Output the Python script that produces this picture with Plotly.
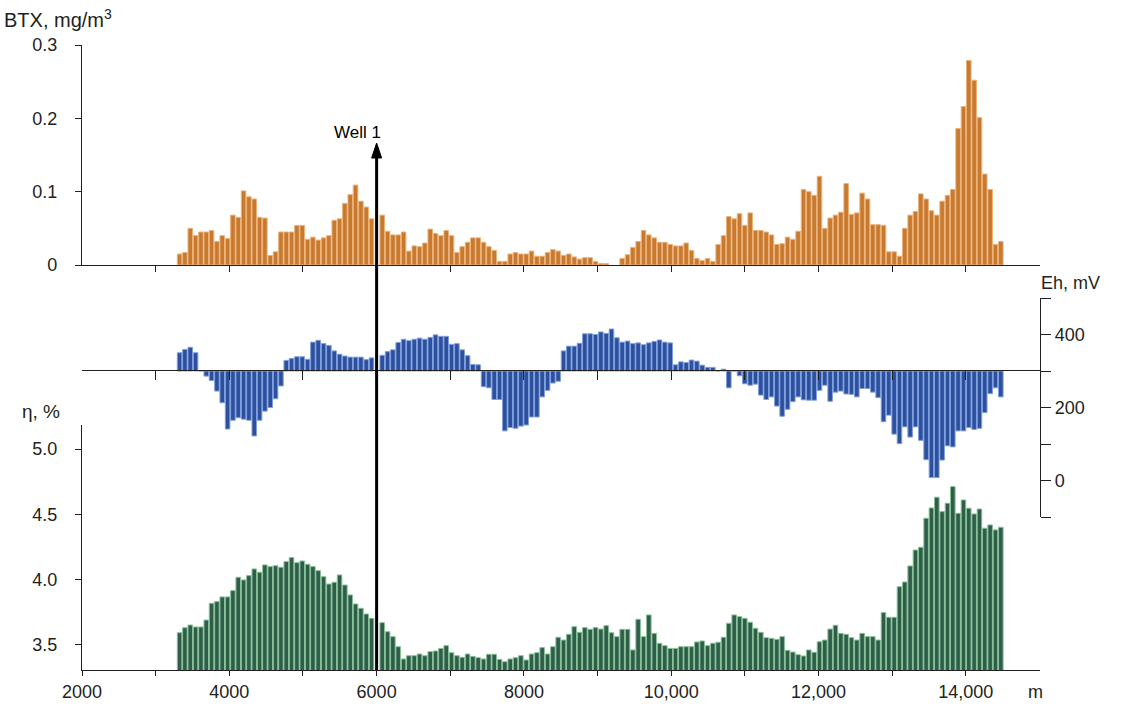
import plotly.graph_objects as go

# ---------------- data ----------------
distance_m = [round(3325 + 72.4 * i) for i in range(155)]

btx = [0.015, 0.017, 0.050, 0.040, 0.045, 0.045, 0.047, 0.032, 0.040, 0.036,
       0.068, 0.065, 0.101, 0.093, 0.090, 0.065, 0.064, 0.013, 0.018, 0.045,
       0.045, 0.045, 0.054, 0.054, 0.035, 0.038, 0.034, 0.037, 0.040, 0.061,
       0.063, 0.084, 0.096, 0.109, 0.087, 0.079, 0.063, None, 0.068, 0.046,
       0.041, 0.041, 0.045, 0.019, 0.026, 0.025, 0.030, 0.049, 0.043, 0.040,
       0.047, 0.040, 0.017, 0.025, 0.031, 0.037, 0.037, 0.031, 0.025, 0.020,
       0.005, 0.005, 0.015, 0.017, 0.015, 0.015, 0.019, 0.012, 0.012, 0.017,
       0.021, 0.019, 0.013, 0.015, 0.011, 0.008, 0.010, 0.010, 0.005, 0.002,
       0.002, None, None, 0.009, 0.014, 0.024, 0.032, 0.047, 0.041, 0.037,
       0.031, 0.031, 0.028, 0.026, 0.026, 0.030, 0.020, 0.009, 0.006, 0.009,
       0.005, 0.028, 0.040, 0.066, 0.063, 0.070, 0.054, 0.071, 0.047, 0.047,
       0.045, 0.041, 0.028, 0.029, 0.038, 0.035, 0.046, 0.103, 0.100, 0.095,
       0.121, 0.050, 0.064, 0.068, 0.072, 0.111, 0.069, 0.071, 0.098, 0.090,
       0.055, 0.055, 0.054, 0.018, 0.018, 0.012, 0.050, 0.068, 0.073, 0.097,
       0.090, 0.074, 0.068, 0.087, 0.095, 0.103, 0.186, 0.216, 0.279, 0.252,
       0.201, 0.124, 0.103, 0.028, 0.032]

eh_mv = [350, 359, 365, 350, 300, 286, 274, 245, 213, 141,
         165, 172, 168, 165, 122, 165, 190, 200, 224, 259,
         329, 334, 339, 339, 332, 379, 384, 375, 370, 355,
         346, 341, 338, 338, 338, 331, 336, None, 343, 353,
         358, 378, 387, 383, 387, 390, 387, 392, 399, 395,
         395, 373, 375, 358, 342, 318, 317, 257, 254, 222,
         222, 136, 145, 143, 149, 152, 174, 174, 229, 247,
         267, 272, 355, 368, 368, 376, 402, 402, 400, 407,
         403, 415, 391, 379, 382, 375, 377, 372, 377, 381,
         385, 379, 377, 317, 325, 323, 330, 327, 316, 310,
         310, 300, 305, 254, 300, 287, 265, 261, 264, 234,
         222, 229, 204, 176, 195, 216, 229, 221, 220, 220,
         247, 261, 217, 242, 245, 237, 236, 229, 252, 252,
         242, 227, 161, 179, 127, 101, 147, 119, 147, 110,
         57, 8, 8, 56, 95, 92, 136, 136, 145, 140,
         143, 186, 238, 254, 229]

eta_pct = [3.594, 3.632, 3.653, 3.638, 3.638, 3.691, 3.819, 3.832, 3.868, 3.868,
           3.916, 4.018, 3.998, 4.031, 4.082, 4.057, 4.113, 4.100, 4.107, 4.095,
           4.138, 4.169, 4.130, 4.143, 4.118, 4.100, 4.069, 4.023, 3.967, 3.980,
           4.036, 3.959, 3.883, 3.814, 3.781, 3.737, 3.704, None, 3.671, 3.602,
           3.564, 3.487, 3.393, 3.418, 3.418, 3.431, 3.418, 3.449, 3.454, 3.474,
           3.495, 3.441, 3.418, 3.406, 3.431, 3.413, 3.403, 3.393, 3.429, 3.429,
           3.390, 3.372, 3.393, 3.403, 3.418, 3.385, 3.431, 3.441, 3.480, 3.431,
           3.487, 3.559, 3.538, 3.582, 3.640, 3.597, 3.633, 3.620, 3.633, 3.622,
           3.648, 3.594, 3.564, 3.620, 3.620, 3.462, 3.697, 3.564, 3.730, 3.589,
           3.513, 3.495, 3.474, 3.474, 3.487, 3.487, 3.487, 3.523, 3.531, 3.495,
           3.513, 3.521, 3.559, 3.666, 3.730, 3.717, 3.704, 3.674, 3.628, 3.597,
           3.556, 3.551, 3.543, 3.564, 3.459, 3.446, 3.426, 3.416, 3.462, 3.444,
           3.525, 3.538, 3.622, 3.651, 3.589, 3.582, 3.556, 3.538, 3.589, 3.564,
           3.564, 3.538, 3.748, 3.712, 3.712, 3.946, 3.982, 4.105, 4.227, 4.248,
           4.470, 4.549, 4.631, 4.521, 4.585, 4.712, 4.508, 4.610, 4.547, 4.503,
           4.541, 4.394, 4.419, 4.381, 4.401]

x_tick_vals = [2000, 4000, 6000, 8000, 10000, 12000, 14000]
x_tick_text = ["2000", "4000", "6000", "8000", "10,000", "12,000", "14,000"]
x_minor_vals = [3000, 5000, 7000, 9000, 11000, 13000]
btx_tick_vals = [0, 0.1, 0.2, 0.3]
btx_tick_text = ["0", "0.1", "0.2", "0.3"]
eh_tick_vals = [0, 200, 400]
eh_tick_text = ["0", "200", "400"]
eh_minor_vals = [-100, 100, 300, 500]
eta_tick_vals = [3.5, 4.0, 4.5, 5.0]
eta_tick_text = ["3.5", "4.0", "4.5", "5.0"]
eh_baseline = 300
well_x = 6000

# ---------------- figure ----------------
INK = "#231f20"
FONT = "Liberation Sans, Arial, sans-serif"

fig = go.Figure()

fig.add_trace(go.Bar(
    x=distance_m, y=btx, xaxis="x", yaxis="y",
    marker=dict(color="#c8792e", line=dict(color="#eab27a", width=1)),
    showlegend=False))

fig.add_trace(go.Bar(
    x=distance_m,
    y=[None if v is None else v - eh_baseline for v in eh_mv],
    base=eh_baseline, xaxis="x2", yaxis="y2",
    marker=dict(color="#2c4f9e", line=dict(color="#7f9fdc", width=1)),
    showlegend=False))

fig.add_trace(go.Bar(
    x=distance_m, y=eta_pct, xaxis="x3", yaxis="y3",
    marker=dict(color="#2f5d4a", line=dict(color="#86c196", width=1)),
    showlegend=False))

x_range = [2000, 15007]
common_x = dict(range=x_range, showgrid=False, zeroline=False, showline=True,
                linecolor=INK, linewidth=1.2, ticks="outside", tickcolor=INK,
                fixedrange=True, automargin=False)
common_y = dict(showgrid=False, zeroline=False, showline=True, linecolor=INK,
                linewidth=1.2, ticks="outside", tickcolor=INK,
                tickfont=dict(size=18, color=INK), fixedrange=True,
                automargin=False)

P = 625.0  # plot height in px (y 45..670)


def frac(py):
    return (670 - py) / P


def fx(px):
    return (px - 82) / 958.0


fig.update_layout(
    width=1128, height=706,
    margin=dict(l=82, r=88, t=45, b=36),
    paper_bgcolor="white", plot_bgcolor="rgba(0,0,0,0)",
    bargap=0.14,
    font=dict(family=FONT, size=18, color=INK),
    xaxis=dict(**common_x, anchor="y", tickvals=list(range(3000, 15000, 1000)),
               showticklabels=False, ticklen=6),
    xaxis2=dict(**common_x, anchor="free", position=frac(370), matches="x",
                tickvals=list(range(3000, 15000, 1000)),
                showticklabels=False, ticklen=9),
    xaxis3=dict(**common_x, anchor="y3", matches="x",
                tickvals=x_tick_vals, ticktext=x_tick_text, ticklen=5,
                minor=dict(tickvals=x_minor_vals, ticks="outside",
                           ticklen=5, tickcolor=INK),
                tickfont=dict(size=18, color=INK)),
    yaxis=dict(**common_y, domain=[frac(265), 1.0], range=[0, 0.3], anchor="x",
               tickvals=btx_tick_vals, ticktext=btx_tick_text,
               ticklen=6, ticklabelstandoff=14),
    yaxis2=dict(**common_y, domain=[frac(517), frac(298)], range=[-100, 500],
                anchor="x2", side="right",
                tickvals=eh_tick_vals, ticktext=eh_tick_text, ticklen=10,
                minor=dict(tickvals=eh_minor_vals, ticks="outside",
                           ticklen=10, tickcolor=INK)),
    yaxis3=dict(**common_y, domain=[0, frac(425)],
                range=[3.5 - 25 / 130.6, 5.0 + 24 / 130.6], anchor="x3",
                tickvals=eta_tick_vals, ticktext=eta_tick_text,
                ticklen=6, ticklabelstandoff=14),
)

# Well line with arrow head
tip = frac(143)
head = frac(158)
half_w = 5 / 73.65 * 1000
fig.add_shape(type="line", xref="x", yref="paper", x0=well_x, x1=well_x,
              y0=0, y1=head, line=dict(color="black", width=3))
fig.add_shape(type="path", xref="x", yref="paper",
              path=f"M {well_x - half_w},{head} L {well_x},{tip} L {well_x + half_w},{head} Z",
              fillcolor="black", line=dict(color="black", width=1))
fig.add_annotation(x=fx(357), y=frac(132), xref="paper", yref="paper", text="Well 1",
                   showarrow=False, font=dict(size=17, color="black"),
                   xanchor="center", yanchor="middle")

# Axis titles
fig.add_annotation(x=fx(2), y=frac(19), xref="paper", yref="paper",
                   text="BTX, mg/m<sup>3</sup>", showarrow=False,
                   xanchor="left", yanchor="middle", font=dict(size=20, color=INK))
fig.add_annotation(x=fx(1039), y=frac(283), xref="paper", yref="paper",
                   text="Eh, mV", showarrow=False,
                   xanchor="left", yanchor="middle", font=dict(size=18, color=INK))
fig.add_annotation(x=fx(20), y=frac(411), xref="paper", yref="paper",
                   text="η, %", showarrow=False,
                   xanchor="left", yanchor="middle", font=dict(size=19, color=INK))
fig.add_annotation(x=fx(1026), y=frac(692), xref="paper", yref="paper",
                   text="m", showarrow=False,
                   xanchor="left", yanchor="middle", font=dict(size=18, color=INK))

fig.write_html("out.html",
               config={"displayModeBar": False},
               post_script="document.body.style.margin='0px';document.body.style.padding='0px';")
